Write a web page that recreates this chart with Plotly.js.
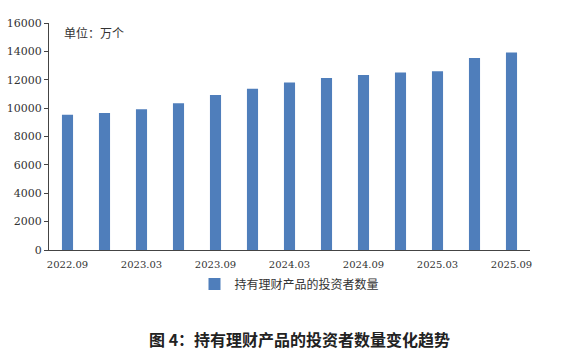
<!DOCTYPE html>
<html><head><meta charset="utf-8">
<script src="https://cdn.plot.ly/plotly-3.0.1.min.js"></script>
<style>html,body{margin:0;padding:0;background:#fff}#c{width:571px;height:354px}</style>
</head><body><div id="c"></div>
<script>
const periods = ["2022.09","2022.12","2023.03","2023.06","2023.09","2023.12","2024.03","2024.06","2024.09","2024.12","2025.03","2025.06","2025.09"];
const investors = [9530, 9650, 9920, 10350, 10930, 11360, 11800, 12130, 12330, 12510, 12600, 13540, 13920];
const tickLabels = ["2022.09","2023.03","2023.09","2024.03","2024.09","2025.03","2025.09"];
const seriesName = "持有理财产品的投资者数量";
const unitText = "单位：万个";
const chartTitle = "图 4：持有理财产品的投资者数量变化趋势";

const serif = "DejaVu Serif, Liberation Serif, serif";
const cjk = "Noto Sans CJK SC";
Plotly.newPlot("c", [{
  type: "bar", x: periods, y: investors, name: seriesName,
  marker: {color: "#4f7ebb"}, width: 0.3, showlegend: true
}], {
  width: 571, height: 354,
  margin: {l: 49, r: 41, t: 23, b: 104},
  paper_bgcolor: "#fff", plot_bgcolor: "#fff",
  font: {family: serif, color: "#333", size: 11},
  bargap: 0.7,
  xaxis: {type: "category", tickmode: "array", tickvals: tickLabels, ticktext: tickLabels,
    showline: true, linecolor: "#444", linewidth: 1, ticks: "", showgrid: false, ticklabelstandoff: 5,
    tickfont: {size: 10, family: serif, color: "#333"}, range: [-0.5, 12.5], tickangle: 0, zeroline: false},
  yaxis: {range: [0, 16000], dtick: 2000, showline: true, linecolor: "#444", linewidth: 1,
    ticks: "outside", ticklen: 4, tickcolor: "#444", showgrid: false, zeroline: false,
    tickfont: {size: 11, family: serif, color: "#333"}, tickformat: "d"},
  legend: {orientation: "h", x: 0.5, xanchor: "center", y: -0.15, yanchor: "middle",
    font: {size: 12, family: cjk, color: "#333"}},
  annotations: [
    {text: unitText, xref: "paper", yref: "paper", x: 0.027, y: 0.96, xanchor: "left", yanchor: "middle",
     showarrow: false, font: {size: 12, family: cjk, color: "#333"}},
    {text: "<b>" + chartTitle + "</b>", xref: "paper", yref: "paper", x: 0.52, y: -0.39, xanchor: "center", yanchor: "middle",
     showarrow: false, font: {size: 16, family: cjk, color: "#222"}}
  ]
}, {displayModeBar: false, staticPlot: true});
</script></body></html>
